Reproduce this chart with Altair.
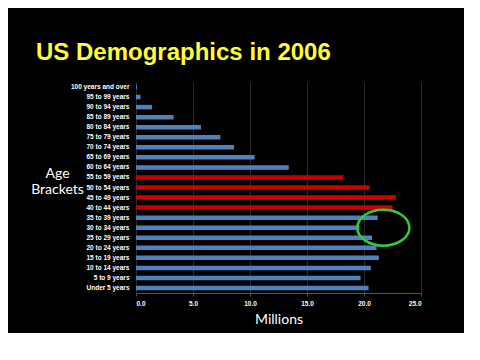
import altair as alt
import pandas as pd

brackets = ["100 years and over", "95 to 99 years", "90 to 94 years", "85 to 89 years",
            "80 to 84 years", "75 to 79 years", "70 to 74 years", "65 to 69 years",
            "60 to 64 years", "55 to 59 years", "50 to 54 years", "45 to 49 years",
            "40 to 44 years", "35 to 39 years", "30 to 34 years", "25 to 29 years",
            "20 to 24 years", "15 to 19 years", "10 to 14 years", "5 to 9 years",
            "Under 5 years"]
millions = [0.08, 0.4, 1.4, 3.3, 5.7, 7.4, 8.6, 10.4, 13.4, 18.2, 20.5, 22.8,
            22.5, 21.2, 19.6, 20.7, 21.1, 21.3, 20.6, 19.7, 20.4]
group = ["other"] * 9 + ["boomer"] * 4 + ["other"] * 8

highlight_bracket = ["30 to 34 years"]
highlight_x = [21.7]

df = pd.DataFrame({"bracket": brackets, "millions": millions, "group": group})
hl = pd.DataFrame({"bracket": highlight_bracket, "x": highlight_x})

yenc = alt.Y("bracket:N", sort=brackets,
             scale=alt.Scale(paddingInner=0.55, paddingOuter=0.275),
             axis=alt.Axis(title=["Age", "Brackets"], titleAngle=0, titleColor="white",
                           titleFont="Lato", titleFontSize=14, titleFontWeight="normal",
                           titleAlign="center", titleBaseline="alphabetic",
                           titleX=-79, titleY=95, titleLineHeight=16,
                           labelColor="white", labelFont="Liberation Sans",
                           labelFontSize=6.5, labelFontWeight="bold", labelPadding=7,
                           ticks=False, domain=True, domainColor="#2a2a2a"))

bars = alt.Chart(df).mark_bar(size=4.5).encode(
    x=alt.X("millions:Q", scale=alt.Scale(domain=[0, 25], nice=False),
            axis=alt.Axis(title="Millions", titleColor="white", titleFont="Lato",
                          titleFontSize=14, titleFontWeight="normal", titlePadding=6,
                          values=[0, 5, 10, 15, 20, 25], format=".1f",
                          labelColor="white", labelFont="Liberation Sans",
                          labelFontSize=6.5, labelFontWeight="bold",
                          grid=True, gridColor="#2a2a2a", domainColor="#555555",
                          tickColor="#555555", tickSize=3, labelPadding=4)),
    y=yenc,
    color=alt.Color("group:N", scale=alt.Scale(domain=["other", "boomer"],
                                               range=["#4f81bd", "#c80000"]),
                    legend=None),
)

ring = alt.Chart(hl).mark_point(
    shape="M-1,0A1,0.69,0,1,0,1,0A1,0.69,0,1,0,-1,0Z",
    size=2704, filled=False, stroke="#33cc33", strokeWidth=2.5, opacity=1,
).encode(x="x:Q", y=alt.Y("bracket:N", sort=brackets))

chart = alt.layer(bars, ring).properties(
    width=285, height=211,
    background="black",
    autosize=alt.AutoSizeParams(type="none"),
    padding={"left": 128, "top": 74, "right": 43, "bottom": 40},
    title=alt.TitleParams("US Demographics in 2006", anchor="start", frame="group",
                          color="#ffff33", font="Liberation Sans", fontSize=24,
                          fontWeight="bold", baseline="alphabetic", offset=20, dx=-100,
                          dy=22),
).configure_view(stroke=None)

chart.save("out.html", embed_options={"renderer": "svg", "actions": False})
